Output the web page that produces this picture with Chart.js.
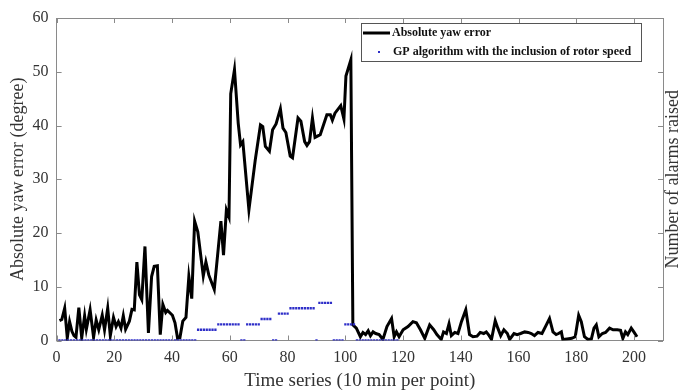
<!DOCTYPE html>
<html>
<head>
<meta charset="utf-8">
<script src="https://cdn.jsdelivr.net/npm/chart.js@4.4.1/dist/chart.umd.min.js"></script>
<style>
  html, body { margin: 0; padding: 0; background: #fff; }
  #wrap { width: 682px; height: 392px; }
</style>
</head>
<body>
<div id="wrap"><canvas id="yawChart" width="682" height="392"></canvas></div>
<script>
// Absolute yaw error (time index, degree)
const yawTime = [
  1.0, 1.8, 2.8, 3.7, 4.5, 5.3, 6.0, 6.7, 7.7, 8.7, 9.7, 10.3, 11.6, 12.8, 13.7, 14.6,
  15.8, 16.6, 17.7, 18.6, 19.7, 20.6, 21.4, 22.3, 23.1, 23.9, 25.2, 26.1, 26.9, 27.8,
  28.7, 29.5, 30.6, 31.8, 32.9, 33.8, 34.9, 35.9, 36.8, 37.8, 38.4, 40.1, 41.0, 41.9,
  42.7, 43.7, 44.8, 45.8, 46.8, 47.8, 48.9, 50.8, 51.7, 52.7, 54.6, 56.9, 57.8, 58.8,
  59.7, 60.3, 61.6, 62.9, 63.7, 64.5, 66.6, 68.8, 70.6, 71.4, 72.3, 73.7, 74.8, 76.0,
  77.5, 78.4, 79.4, 80.9, 81.7, 83.6, 84.6, 85.9, 86.7, 87.6, 88.6, 89.5, 91.3, 93.6,
  94.8, 95.5, 96.4, 98.4, 99.5, 100.2, 101.9, 102.6, 103.8, 105.2, 106.1, 107.0, 107.9,
  108.7, 109.6, 110.5, 111.7, 113.0, 114.4, 116.0, 116.9, 117.7, 118.6, 120.0, 121.7,
  123.4, 124.6, 126.0, 127.5, 129.2, 130.6, 131.7, 133.2, 134.0, 135.0, 135.9, 136.7,
  137.9, 139.0, 140.2, 141.7, 143.0, 144.2, 145.6, 146.7, 147.9, 148.8, 149.8, 150.6,
  151.9, 152.8, 153.8, 154.9, 156.1, 156.9, 158.4, 159.5, 160.7, 162.1, 163.3, 164.4,
  165.5, 166.7, 168.1, 169.6, 170.7, 171.9, 173.0, 173.8, 174.8, 175.3, 176.8, 178.4,
  179.6, 180.8, 181.7, 182.8, 184.0, 185.2, 186.1, 186.9, 187.8, 189.0, 190.1, 191.5,
  192.7, 194.2, 195.3, 196.1, 197.0, 197.8, 199.0, 199.9, 201.0
];
const yawError = [
  3.7, 3.9, 6.0, 0.5, 3.5, 1.7, 0.9, 0.6, 6.1, 0.5, 4.6, 2.1, 5.7, 0.6, 3.8, 2.0,
  4.7, 2.0, 6.0, 0.9, 4.3, 2.6, 3.5, 2.3, 4.6, 2.1, 3.6, 5.8, 5.7, 14.6,
  8.5, 7.6, 17.5, 1.4, 11.9, 13.8, 13.9, 1.1, 6.7, 5.2, 5.6, 4.7, 3.3, 0.4,
  0.5, 3.6, 4.3, 11.9, 7.8, 22.2, 20.2, 12.0, 14.6, 12.2, 9.5, 22.2, 15.9, 24.3,
  23.0, 45.9, 50.4, 40.4, 36.4, 37.0, 24.3, 33.6, 40.1, 39.8, 36.1, 35.2, 39.2, 40.3,
  43.1, 39.5, 38.7, 34.3, 34.0, 41.4, 40.8, 37.0, 36.3, 37.0, 41.4, 37.8, 38.3, 42.0,
  42.0, 41.0, 42.3, 43.7, 41.2, 49.2, 52.2, 2.9, 2.3, 0.7, 1.5, 1.1, 1.8,
  0.9, 1.6, 1.3, 1.1, 0.2, 2.6, 4.1, 0.7, 1.6, 0.7, 2.0, 2.6,
  3.5, 3.3, 2.0, 0.4, 2.9, 2.0, 1.1, 0.2, 1.6, 1.3, 3.1, 0.9,
  1.5, 1.3, 3.5, 5.7, 1.1, 0.7, 0.8, 1.5, 1.3, 1.6, 0.9, 0.2,
  3.7, 2.3, 0.9, 2.0, 1.3, 0.2, 1.3, 1.1, 1.3, 1.6, 1.5, 1.3,
  0.9, 1.5, 1.3, 2.9, 4.1, 1.6, 1.1, 1.3, 1.6, 0.2, 0.3, 0.4,
  0.7, 4.7, 3.5, 0.7, 0.2, 0.3, 2.3, 2.9, 0.7, 1.3, 1.5, 2.3,
  2.0, 2.0, 1.9, 0.4, 1.6, 1.1, 2.3, 1.6, 0.7
];

// Number of alarms raised, one value per time point starting at t = 1
const alarms = [
  0, 0, 0, 0, 0, 0, 0, 0, 0, 0, 0, 0,
  0, 0, 0, 0, 0, 0, 0, 0, 0, 0, 0, 0,
  0, 0, 0, 0, 0, 0, 0, 0, 0, 0, 0, 0,
  0, 0, 0, 0, 0, 0, 0, 0, 0, 0, 0, 0,
  2, 2, 2, 2, 2, 2, 2,
  3, 3, 3, 3, 3, 3, 3, 3,
  0, 0,
  3, 3, 3, 3, 3,
  4, 4, 4, 4,
  0, 0,
  5, 5, 5, 5,
  6, 6, 6, 6, 6, 6, 6, 6, 6,
  0,
  7, 7, 7, 7, 7,
  0, 0, 0, 0,
  3, 3, 3, 3,
  0, 0, 0, 0, 0, 0, 0, 0, 0, 0, 0, 0, 0, 0, 0
];
const alarmStart = 1;

const xTitle = 'Time series (10 min per point)';
const yTitle = 'Absolute yaw error (degree)';
const y2Title = 'Number of alarms raised';
const seriesNames = ['Absolute yaw error', 'GP algorithm with the inclusion of rotor speed'];

const serif = '"Liberation Serif", "DejaVu Serif", serif';
const axisGrey = '#8a8a8a';
const dotBlue = '#2e2ec8';

const yawPoints = yawTime.map((t, i) => ({ x: t, y: yawError[i] }));
const alarmPoints = alarms.map((n, i) => ({ x: alarmStart + i, y: n }));

// inward tick marks, top border, legend box and right axis title
const framePlugin = {
  id: 'frame',
  afterDraw(chart) {
    const { ctx, chartArea: a, scales } = chart;
    ctx.save();
    ctx.strokeStyle = axisGrey;
    ctx.lineWidth = 1;
    ctx.beginPath();
    ctx.moveTo(a.left, Math.round(a.top) + 0.5);
    ctx.lineTo(a.right, Math.round(a.top) + 0.5);
    scales.x.ticks.forEach(t => {
      const px = Math.round(scales.x.getPixelForValue(t.value)) + 0.5;
      ctx.moveTo(px, a.bottom);
      ctx.lineTo(px, a.bottom - 5);
      ctx.moveTo(px, a.top);
      ctx.lineTo(px, a.top + 5);
    });
    scales.y.ticks.forEach(t => {
      const py = Math.round(scales.y.getPixelForValue(t.value)) + 0.5;
      ctx.moveTo(a.left, py);
      ctx.lineTo(a.left + 5, py);
      ctx.moveTo(a.right, py);
      ctx.lineTo(a.right - 5, py);
    });
    ctx.stroke();

    // legend
    const lx = 361, ly = 23, lw = 280, lh = 38;
    ctx.fillStyle = '#fff';
    ctx.fillRect(lx, ly, lw, lh);
    ctx.strokeStyle = '#555';
    ctx.strokeRect(lx + 0.5, ly + 0.5, lw, lh);
    ctx.strokeStyle = '#000';
    ctx.lineWidth = 3;
    ctx.beginPath();
    ctx.moveTo(lx + 2, ly + 10);
    ctx.lineTo(lx + 29, ly + 10);
    ctx.stroke();
    ctx.fillStyle = dotBlue;
    ctx.fillRect(lx + 17, ly + 28, 2, 2);
    ctx.fillStyle = '#111';
    ctx.font = 'bold 12px ' + serif;
    ctx.textBaseline = 'middle';
    ctx.textAlign = 'left';
    ctx.fillText(seriesNames[0], lx + 31, ly + 10);
    ctx.fillText(seriesNames[1], lx + 32, ly + 28.5);

    // right axis title, reads bottom to top like the left one
    ctx.font = '18px ' + serif;
    ctx.fillStyle = '#333';
    ctx.textAlign = 'center';
    ctx.translate(673, (a.top + a.bottom) / 2);
    ctx.rotate(-Math.PI / 2);
    ctx.fillText(y2Title, 0, 0);
    ctx.restore();
  }
};

const ctx = document.getElementById('yawChart').getContext('2d');
new Chart(ctx, {
  type: 'line',
  data: {
    datasets: [
      {
        label: seriesNames[1],
        data: alarmPoints,
        yAxisID: 'y2',
        showLine: false,
        pointStyle: 'rect',
        pointRadius: 1.6,
        pointBorderWidth: 0,
        pointBackgroundColor: dotBlue,
        order: 0
      },
      {
        label: seriesNames[0],
        data: yawPoints,
        yAxisID: 'y',
        borderColor: '#000',
        borderWidth: 3,
        pointRadius: 0,
        tension: 0,
        fill: false,
        order: 1
      }
    ]
  },
  options: {
    responsive: false,
    animation: false,
    layout: { padding: { top: 18, left: 0, right: 0, bottom: 0 } },
    plugins: {
      legend: { display: false },
      tooltip: { enabled: false }
    },
    scales: {
      x: {
        type: 'linear',
        min: 0,
        max: 210,
        grid: { display: false, drawTicks: false },
        border: { color: axisGrey, width: 1 },
        ticks: {
          stepSize: 20,
          includeBounds: false,
          color: '#333',
          padding: 8,
          maxRotation: 0,
          font: { family: serif, size: 16 }
        },
        title: {
          display: true,
          text: xTitle,
          color: '#333',
          padding: { top: 0, bottom: 0 },
          font: { family: serif, size: 19 }
        },
        afterFit(scale) { scale.height = 51.5; }
      },
      y: {
        position: 'left',
        min: 0,
        max: 60,
        grid: { display: false, drawTicks: false },
        border: { color: axisGrey, width: 1 },
        ticks: {
          stepSize: 10,
          color: '#333',
          padding: 8,
          font: { family: serif, size: 16 }
        },
        title: {
          display: true,
          text: yTitle,
          color: '#333',
          padding: { top: 7, bottom: 0 },
          font: { family: serif, size: 18 }
        },
        afterFit(scale) { scale.width = 56.6; }
      },
      y2: {
        position: 'right',
        min: 0,
        max: 60,
        grid: { display: false, drawTicks: false },
        border: { color: axisGrey, width: 1 },
        ticks: { display: false },
        afterFit(scale) { scale.width = 19; }
      }
    }
  },
  plugins: [framePlugin]
});
</script>
</body>
</html>
